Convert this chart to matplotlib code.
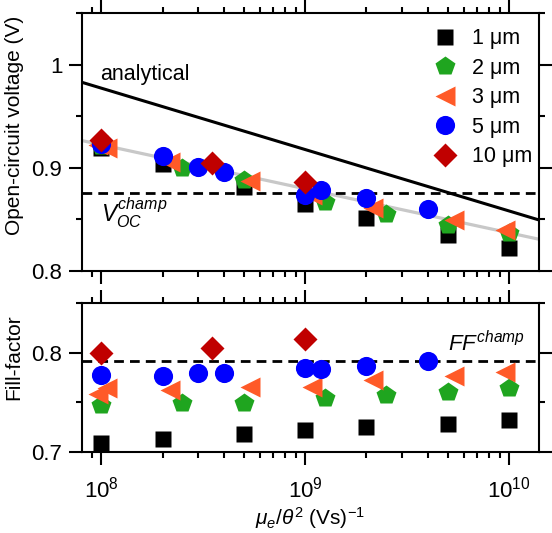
import matplotlib
matplotlib.use("Agg")
import matplotlib.pyplot as plt
from matplotlib.lines import Line2D
from matplotlib.ticker import LogLocator, MultipleLocator, LogFormatterSciNotation, NullFormatter

plt.rcParams['font.family'] = ['Liberation Sans', 'DejaVu Sans']
plt.rcParams['mathtext.fontset'] = 'custom'
plt.rcParams['mathtext.rm'] = 'Liberation Sans'
plt.rcParams['mathtext.it'] = 'Liberation Sans:italic'
plt.rcParams['mathtext.bf'] = 'Liberation Sans:bold'

# ---------------- data ----------------
labels = ['1 μm', '2 μm', '3 μm', '5 μm', '10 μm']

sq_x = [1e8, 2e8, 5e8, 1e9, 2e9, 5e9, 1e10]
sq_voc = [0.919, 0.904, 0.881, 0.865, 0.851, 0.835, 0.822]
sq_ff = [0.709, 0.713, 0.718, 0.722, 0.725, 0.728, 0.732]

pent_x = [1e8, 2.5e8, 5e8, 1.25e9, 2.5e9, 5e9, 1e10]
pent_voc = [0.921, 0.900, 0.888, 0.867, 0.855, 0.845, 0.837]
pent_ff = [0.747, 0.749, 0.749, 0.754, 0.757, 0.760, 0.764]

tri_x = [0.97e8, 1.07e8, 2.17e8, 5.4e8, 1.08e9, 2.15e9, 5.4e9, 9.6e9]
tri_voc = [0.922, 0.919, 0.906, 0.887, 0.874, 0.861, 0.849, 0.840]
tri_ff = [0.758, 0.764, 0.762, 0.765, 0.765, 0.772, 0.776, 0.781]

circ_x = [1e8, 2e8, 3e8, 4e8, 1e9, 1.2e9, 2e9, 4e9]
circ_voc = [0.923, 0.911, 0.901, 0.896, 0.874, 0.878, 0.871, 0.860]
circ_ff = [0.777, 0.776, 0.780, 0.780, 0.785, 0.784, 0.787, 0.792]

diam_x = [1e8, 3.5e8, 1e9]
diam_voc = [0.927, 0.905, 0.886]
diam_ff = [0.800, 0.805, 0.814]

analytical_x = [8.0e7, 1.4e10]
analytical_voc = [0.983, 0.8495]
fit_x = [8.0e7, 1.4e10]
fit_voc = [0.9265, 0.8308]
voc_champ = 0.876
ff_champ = 0.792

# ---------------- styles ----------------
series = [
    (sq_x, sq_voc, sq_ff, 's', '#000000', 12),
    (pent_x, pent_voc, pent_ff, 'p', '#1fa51f', 15),
    (tri_x, tri_voc, tri_ff, '<', '#ff5a28', 14.5),
    (circ_x, circ_voc, circ_ff, 'o', '#0000ff', 13.8),
    (diam_x, diam_voc, diam_ff, 'D', '#c00000', 12.5),
]

fig = plt.figure(figsize=(5.52, 5.33), dpi=100)
ax1 = fig.add_axes([0.148, 0.4916, 0.828, 0.484])
ax2 = fig.add_axes([0.148, 0.152, 0.828, 0.2796])

FS = 15.5
xmin, xmax = 8.03e7, 1.4e10

for ax in (ax1, ax2):
    ax.set_xscale('log')
    ax.set_xlim(xmin, xmax)
    for s in ax.spines.values():
        s.set_linewidth(1.5)
    ax.tick_params(which='both', direction='out', top=True, right=True, width=1.5,
                   labelsize=16, pad=4.5)
    ax.tick_params(which='major', length=9.5)
    ax.tick_params(which='minor', length=4.5)
    ax.xaxis.set_major_locator(LogLocator(base=10, numticks=10))
    ax.xaxis.set_minor_locator(LogLocator(base=10, subs=range(2, 10), numticks=20))
    ax.xaxis.set_minor_formatter(NullFormatter())

# top panel lines
ax1.plot(fit_x, fit_voc, color='#c8c8c8', lw=2.3, zorder=1)
ax1.plot(analytical_x, analytical_voc, color='black', lw=2.2, zorder=1)
ax1.axhline(voc_champ, color='black', lw=2.0, ls=(0, (3.5, 2.2)), zorder=1)
ax2.axhline(ff_champ, color='black', lw=2.0, ls=(0, (3.5, 2.2)), zorder=1)

handles = []
for i, (x, v, f, m, c, ms) in enumerate(series):
    ax1.plot(x, v, ls='none', marker=m, ms=ms, color=c, mec='none', zorder=3 + i)
    ax2.plot(x, f, ls='none', marker=m, ms=ms, color=c, mec='none', zorder=3 + i)
    handles.append(Line2D([], [], ls='none', marker=m, ms=ms, color=c, mec='none'))

ax1.set_ylim(0.8, 1.05)
ax1.yaxis.set_minor_locator(MultipleLocator(0.05))
ax1.set_yticks([0.8, 0.9, 1.0])
ax1.set_yticklabels(['0.8', '0.9', '1'])
ax1.tick_params(axis='x', which='both', labelbottom=False)

ax2.set_ylim(0.7, 0.85)
ax2.set_yticks([0.7, 0.8])
ax2.set_yticklabels(['0.7', '0.8'])
ax2.yaxis.set_minor_locator(MultipleLocator(0.05))
ax2.xaxis.set_major_formatter(LogFormatterSciNotation())
ax2.tick_params(axis='x', which='major', pad=8)

ax1.set_ylabel('Open-circuit voltage (V)', fontsize=15)
ax1.yaxis.set_label_coords(-0.127, 0.566)
ax2.set_ylabel('Fill-factor', fontsize=15)
ax2.yaxis.set_label_coords(-0.127, 0.634)
ax2.set_xlabel(r'$\mu_e/\theta^2$ (Vs)$^{-1}$', fontsize=15, labelpad=2)

ax1.text(0.99e8, 0.9855, 'analytical', fontsize=FS, va='baseline', ha='left')
ax1.text(1.0e8, 0.8476, r'$V_{OC}^{champ}$', fontsize=16.5, va='baseline', ha='left')
ax2.text(5.04e9, 0.8013, r'$FF^{champ}$', fontsize=16, va='baseline', ha='left')

ax1.legend(handles, labels, loc='upper right', bbox_to_anchor=(0.985, 0.94),
           frameon=False, fontsize=FS, numpoints=1, handlelength=1.0,
           handletextpad=0.75, labelspacing=0.39, borderpad=0, borderaxespad=0)

fig.savefig('out.png', dpi=100)
